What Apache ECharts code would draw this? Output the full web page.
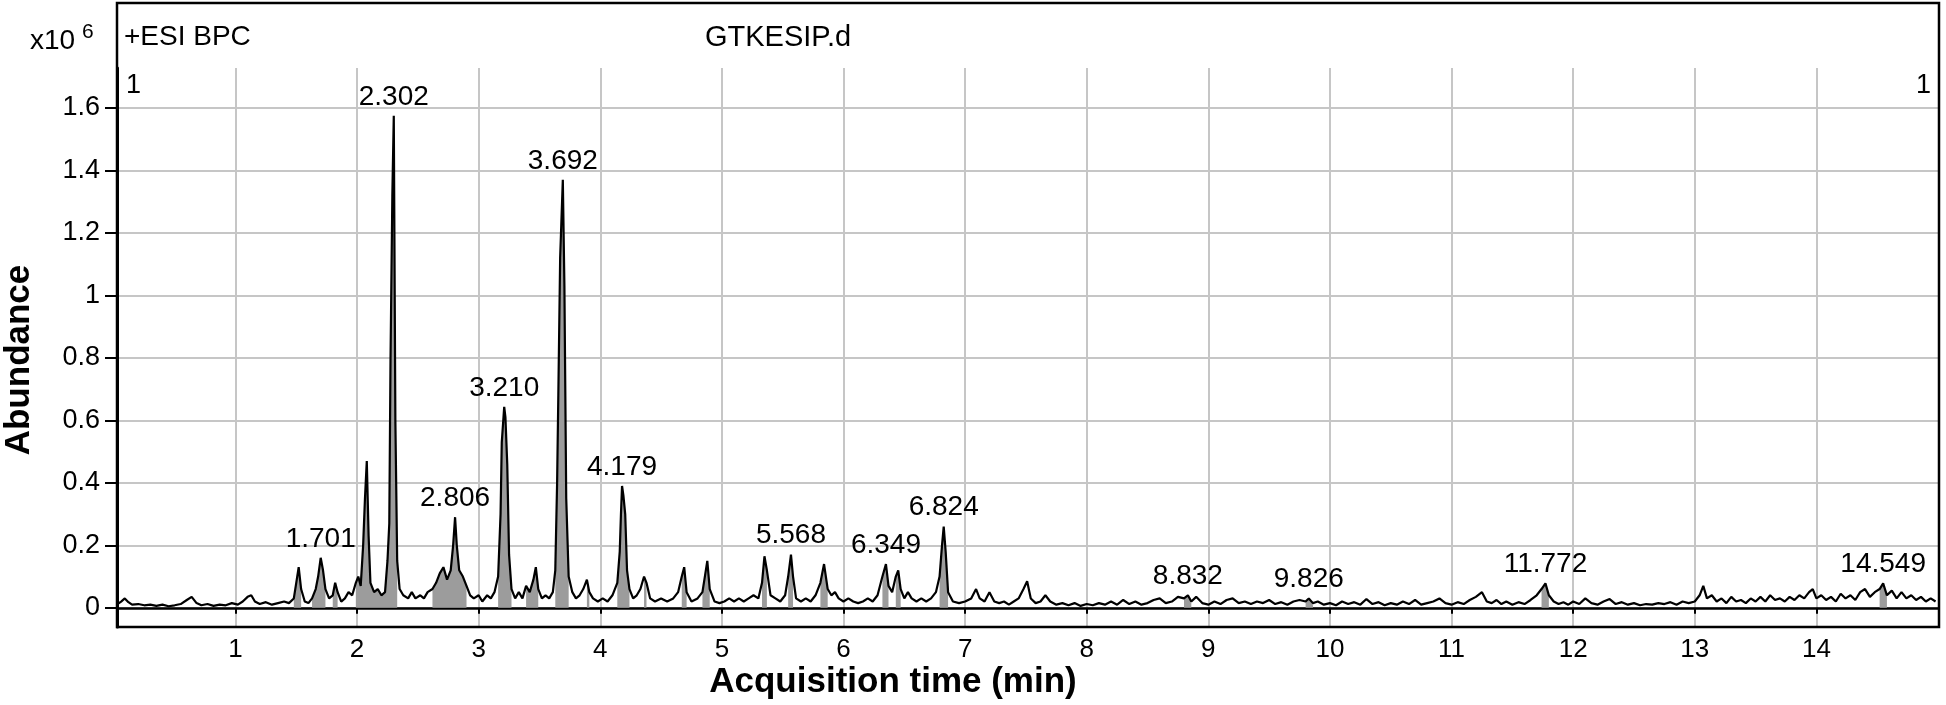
<!DOCTYPE html>
<html>
<head>
<meta charset="utf-8">
<script src="https://cdn.jsdelivr.net/npm/echarts@6/dist/echarts.min.js"></script>
<style>
html,body{margin:0;padding:0;background:#fff;}
#c{width:1946px;height:705px;}
</style>
</head>
<body>
<div id="c"></div>
<script>
// ---- data (abundance in units of 10^6, time in min) ----
const xTicks = [1,2,3,4,5,6,7,8,9,10,11,12,13,14];
const yTicks = [0,0.2,0.4,0.6,0.8,1,1.2,1.4,1.6];
const peakTimes = [1.701,2.302,2.806,3.210,3.692,4.179,5.568,6.349,6.824,8.832,9.826,11.772,14.549];
const integrated = [[1.48,1.56],[1.63,1.76],[1.8,1.86],[1.99,2.34],[2.6,2.92],[3.15,3.28],[3.38,3.5],[3.62,3.75],[3.87,3.92],[4.13,4.25],[4.34,4.4],[4.65,4.72],[4.84,4.92],[5.32,5.39],[5.53,5.6],[5.8,5.88],[6.3,6.38],[6.42,6.48],[6.77,6.87],[8.78,8.88],[9.78,9.87],[11.72,11.82],[14.5,14.6]];
const bpc = [
[0.03,0.012],[0.06,0.02],[0.09,0.03],[0.12,0.018],[0.15,0.01],[0.2,0.012],[0.25,0.008],[0.3,0.01],[0.35,0.006],[0.4,0.01],[0.45,0.005],[0.5,0.008],[0.55,0.012],[0.6,0.025],[0.64,0.035],[0.68,0.015],[0.72,0.008],[0.77,0.012],[0.82,0.006],[0.87,0.01],[0.92,0.008],[0.97,0.015],[1.02,0.01],[1.06,0.02],[1.1,0.035],[1.13,0.04],[1.16,0.02],[1.2,0.012],[1.25,0.018],[1.3,0.01],[1.35,0.015],[1.4,0.02],[1.44,0.015],
[1.48,0.03],[1.5,0.08],[1.52,0.13],[1.54,0.06],[1.57,0.02],[1.6,0.015],[1.63,0.03],[1.66,0.06],[1.68,0.1],[1.701,0.16],[1.72,0.12],[1.74,0.06],[1.77,0.03],[1.8,0.04],[1.82,0.08],[1.84,0.05],[1.87,0.02],[1.9,0.03],[1.93,0.05],[1.96,0.04],[1.99,0.08],[2.01,0.1],[2.03,0.07],[2.05,0.2],[2.065,0.35],[2.08,0.47],[2.095,0.23],[2.11,0.08],[2.14,0.05],[2.17,0.06],[2.2,0.04],[2.23,0.05],[2.25,0.15],[2.265,0.27],[2.275,0.79],[2.29,1.317],[2.302,1.575],[2.315,0.6],[2.33,0.15],[2.35,0.06],[2.38,0.04],[2.42,0.03],[2.45,0.05],[2.48,0.03],[2.52,0.04],[2.55,0.03],[2.58,0.05],[2.62,0.06],[2.65,0.08],[2.68,0.11],[2.71,0.13],[2.74,0.09],[2.77,0.12],[2.79,0.2],[2.806,0.29],[2.82,0.2],[2.84,0.12],[2.87,0.1],[2.9,0.07],[2.93,0.04],[2.96,0.03],[3.0,0.04],[3.03,0.02],[3.07,0.04],[3.1,0.03],[3.13,0.05],[3.16,0.1],[3.18,0.3],[3.19,0.53],[3.210,0.643],[3.22,0.61],[3.235,0.46],[3.25,0.17],[3.27,0.06],[3.3,0.03],[3.33,0.05],[3.36,0.03],[3.39,0.07],[3.42,0.05],[3.45,0.09],[3.47,0.13],[3.49,0.06],[3.52,0.03],[3.55,0.04],[3.58,0.03],[3.61,0.05],[3.63,0.12],[3.645,0.4],[3.655,0.68],[3.67,1.12],[3.692,1.37],[3.705,1.03],[3.72,0.35],[3.74,0.1],[3.77,0.05],[3.8,0.03],[3.83,0.04],[3.86,0.06],[3.89,0.09],[3.91,0.05],[3.94,0.03],[3.98,0.02],[4.02,0.03],[4.06,0.02],[4.1,0.04],[4.14,0.08],[4.16,0.18],[4.17,0.3],[4.179,0.39],[4.19,0.36],[4.205,0.3],[4.22,0.12],[4.24,0.06],[4.27,0.03],[4.3,0.04],[4.33,0.06],[4.36,0.1],[4.38,0.08],[4.41,0.03],[4.45,0.02],[4.5,0.03],[4.55,0.02],[4.6,0.03],[4.64,0.05],[4.67,0.1],[4.69,0.13],[4.71,0.05],[4.75,0.02],[4.8,0.03],[4.84,0.05],[4.86,0.1],[4.88,0.15],[4.9,0.06],[4.94,0.02],[4.98,0.015],[5.02,0.02],[5.06,0.03],[5.1,0.02],[5.14,0.03],[5.18,0.02],[5.22,0.03],[5.26,0.04],[5.3,0.03],[5.33,0.08],[5.35,0.165],[5.37,0.12],[5.4,0.04],[5.44,0.03],[5.48,0.02],[5.52,0.04],[5.545,0.1],[5.568,0.17],[5.585,0.1],[5.61,0.03],[5.65,0.02],[5.69,0.03],[5.73,0.02],[5.77,0.04],[5.81,0.08],[5.84,0.14],[5.87,0.06],[5.9,0.04],[5.93,0.05],[5.96,0.03],[6.0,0.02],[6.04,0.03],[6.08,0.02],[6.12,0.015],[6.16,0.02],[6.2,0.03],[6.24,0.02],[6.28,0.04],[6.32,0.1],[6.349,0.14],[6.37,0.07],[6.4,0.05],[6.43,0.1],[6.45,0.12],[6.47,0.06],[6.5,0.03],[6.53,0.05],[6.56,0.03],[6.6,0.02],[6.64,0.03],[6.68,0.02],[6.72,0.03],[6.76,0.05],[6.79,0.1],[6.81,0.2],[6.824,0.26],[6.84,0.18],[6.86,0.05],[6.9,0.02],[6.95,0.015],[7.0,0.02],[7.05,0.03],[7.09,0.06],[7.12,0.03],[7.16,0.02],[7.2,0.05],[7.24,0.02],[7.28,0.015],[7.32,0.02],[7.36,0.01],[7.4,0.02],[7.44,0.03],[7.48,0.06],[7.51,0.085],[7.54,0.03],[7.58,0.015],[7.62,0.02],[7.66,0.04],[7.7,0.02],[7.75,0.01],[7.8,0.015],
[7.85,0.008],[7.9,0.015],[7.95,0.006],[8.0,0.012],[8.05,0.008],[8.1,0.015],[8.15,0.01],[8.2,0.02],[8.25,0.01],[8.3,0.025],[8.35,0.012],[8.4,0.02],[8.45,0.01],[8.5,0.015],[8.55,0.025],[8.6,0.03],[8.65,0.015],[8.7,0.02],[8.75,0.035],[8.8,0.03],[8.832,0.04],[8.86,0.02],[8.9,0.035],[8.95,0.015],[9.0,0.01],[9.05,0.02],[9.1,0.012],[9.15,0.025],[9.2,0.03],[9.25,0.015],[9.3,0.02],[9.35,0.012],[9.4,0.02],[9.45,0.015],[9.5,0.025],[9.55,0.012],[9.6,0.018],[9.65,0.01],[9.7,0.02],[9.75,0.025],[9.8,0.02],[9.826,0.03],[9.86,0.015],[9.9,0.02],[9.95,0.01],[10.0,0.015],[10.05,0.008],[10.1,0.02],[10.15,0.012],[10.2,0.018],[10.25,0.01],[10.3,0.028],[10.35,0.012],[10.4,0.018],[10.45,0.008],[10.5,0.015],[10.55,0.01],[10.6,0.02],[10.65,0.012],[10.7,0.025],[10.75,0.01],[10.8,0.015],[10.85,0.02],[10.9,0.03],[10.95,0.015],[11.0,0.01],[11.05,0.018],[11.1,0.012],[11.15,0.025],[11.2,0.035],[11.25,0.05],[11.29,0.02],[11.33,0.015],[11.37,0.025],[11.41,0.012],[11.45,0.02],[11.5,0.01],[11.55,0.018],[11.6,0.012],[11.65,0.025],[11.7,0.04],[11.74,0.06],[11.772,0.078],[11.8,0.04],[11.84,0.02],[11.88,0.012],[11.92,0.018],[11.96,0.01],[12.0,0.02],[12.05,0.012],[12.1,0.03],[12.15,0.015],[12.2,0.01],[12.25,0.02],[12.3,0.028],[12.35,0.012],[12.4,0.018],[12.45,0.01],[12.5,0.015],[12.55,0.008],[12.6,0.012],[12.65,0.01],[12.7,0.015],[12.75,0.012],[12.8,0.018],[12.85,0.01],[12.9,0.02],[12.95,0.015],[13.0,0.02],[13.04,0.04],[13.07,0.07],[13.1,0.03],[13.14,0.04],[13.18,0.02],[13.22,0.03],[13.26,0.015],[13.3,0.035],[13.34,0.02],[13.38,0.025],[13.42,0.015],[13.46,0.03],[13.5,0.02],[13.54,0.035],[13.58,0.02],[13.62,0.04],[13.66,0.025],[13.7,0.03],[13.74,0.02],[13.78,0.035],[13.82,0.025],[13.86,0.04],[13.9,0.03],[13.94,0.05],[13.97,0.06],[14.0,0.03],[14.04,0.04],[14.08,0.025],[14.12,0.035],[14.16,0.02],[14.2,0.045],[14.24,0.03],[14.28,0.04],[14.32,0.025],[14.36,0.05],[14.4,0.06],[14.44,0.035],[14.48,0.05],[14.52,0.06],[14.549,0.078],[14.58,0.04],[14.62,0.055],[14.66,0.03],[14.7,0.05],[14.74,0.03],[14.78,0.04],[14.82,0.025],[14.86,0.035],[14.9,0.02],[14.94,0.03],[14.98,0.02]
];

// ---- derived series ----
const fillData = bpc.map(p => {
  const inside = integrated.some(r => p[0] >= r[0] && p[0] <= r[1]);
  return inside ? [p[0], p[1]] : [p[0], null];
});
const labelData = bpc.filter(p => peakTimes.some(t => Math.abs(t - p[0]) < 1e-9));

const FONT = '"Liberation Sans", Arial, sans-serif';
const TXT = '#000';
const chart = echarts.init(document.getElementById('c'));
chart.setOption({
  animation: false,
  backgroundColor: '#fff',
  grid: { left: 117, right: 8, top: 68, bottom: 78, containLabel: false },
  xAxis: {
    type: 'value', min: 0.026, max: 15.0, splitNumber: 15,
    axisLine: { lineStyle: { color: '#000', width: 2.5 } },
    axisTick: { show: true, customValues: xTicks, length: 6, lineStyle: { color: '#000', width: 2 } },
    axisLabel: { customValues: xTicks, fontSize: 26, color: TXT, fontFamily: FONT, margin: 10 },
    splitLine: { show: true, lineStyle: { color: '#c6c6c6', width: 2 } }
  },
  yAxis: {
    type: 'value', min: -0.0615, max: 1.728, splitNumber: 9,
    axisLine: { show: true, lineStyle: { color: '#000', width: 3 } },
    axisTick: { show: true, customValues: yTicks, length: 12, lineStyle: { color: '#000', width: 2 } },
    axisLabel: { customValues: yTicks, fontSize: 27, color: TXT, fontFamily: FONT, margin: 17 },
    splitLine: { show: true, lineStyle: { color: '#c6c6c6', width: 2 } }
  },
  series: [
    {
      type: 'line', data: fillData, showSymbol: false, silent: true, connectNulls: false,
      lineStyle: { width: 0 }, areaStyle: { color: '#9c9c9c', opacity: 1 }, z: 2
    },
    {
      type: 'line', data: bpc, showSymbol: false, silent: true,
      lineStyle: { color: '#000', width: 2.2 }, z: 3
    },
    {
      type: 'scatter', data: labelData, symbolSize: 0, silent: true, z: 4,
      itemStyle: { opacity: 1 },
      label: {
        show: true, position: 'top', distance: 5, fontSize: 28, color: TXT, opacity: 1, fontFamily: FONT,
        formatter: p => p.value[0].toFixed(3)
      }
    }
  ],
  graphic: [
    { type: 'rect', z: 10, silent: true, shape: { x: 117, y: 3, width: 1822, height: 624 },
      style: { fill: 'none', stroke: '#000', lineWidth: 2.5 } },
    { type: 'text', z: 10, left: 30, top: 27, style: { text: 'x10', font: '28px ' + FONT, fill: TXT } },
    { type: 'text', z: 10, left: 82, top: 22, style: { text: '6', font: '21px ' + FONT, fill: TXT } },
    { type: 'text', z: 10, left: 124, top: 23, style: { text: '+ESI BPC', font: '28px ' + FONT, fill: TXT } },
    { type: 'text', z: 10, left: 705, top: 23, style: { text: 'GTKESIP.d', font: '29px ' + FONT, fill: TXT } },
    { type: 'text', z: 10, left: 126, top: 72, style: { text: '1', font: '27px ' + FONT, fill: TXT } },
    { type: 'text', z: 10, left: 1916, top: 72, style: { text: '1', font: '27px ' + FONT, fill: TXT } },
    { type: 'text', z: 10, x: 893, y: 682, style: { text: 'Acquisition time (min)', font: 'bold 35px ' + FONT, fill: '#000', align: 'center', verticalAlign: 'middle' } },
    { type: 'text', z: 10, x: 19, y: 360, rotation: Math.PI / 2, style: { text: 'Abundance', font: 'bold 35px ' + FONT, fill: '#000', align: 'center', verticalAlign: 'middle' } }
  ]
});
</script>
</body>
</html>
